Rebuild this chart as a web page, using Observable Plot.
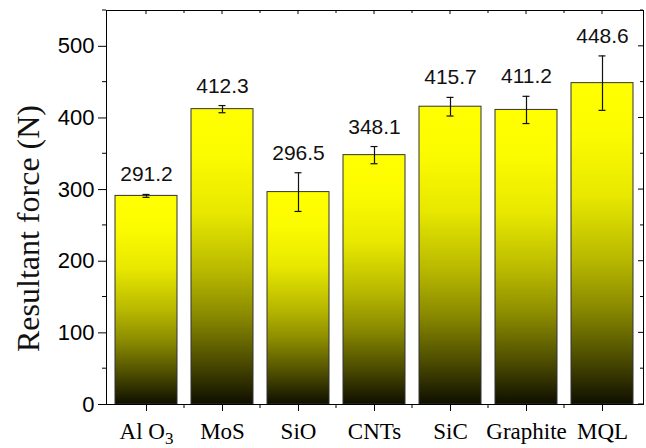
<!DOCTYPE html>
<html>
<head>
<meta charset="utf-8">
<script src="https://cdn.jsdelivr.net/npm/d3@7"></script>
<script src="https://cdn.jsdelivr.net/npm/@observablehq/plot@0.6"></script>
<style>
  html, body { margin: 0; padding: 0; background: #fff; }
  #chart svg { display: block; }
</style>
</head>
<body>
<div id="chart"></div>
<script>
const categories = ["Al O3", "MoS", "SiO", "CNTs", "SiC", "Graphite", "MQL"];
const values = [291.2, 412.3, 296.5, 348.1, 415.7, 411.2, 448.6];
const errors = [2, 5, 27, 12, 13, 19, 38];
const yTicks = [0, 100, 200, 300, 400, 500];
const yMinorTicks = [50, 150, 250, 350, 450, 550];
const yTitle = "Resultant force (N)";

const data = categories.map((c, i) => ({cat: c, v: values[i], e: errors[i], label: values[i].toFixed(1)}));

const gradStops = [
  [0, "#ffff00"], [0.15, "#fcfc00"], [0.35, "#e8e800"], [0.55, "#b8b800"],
  [0.7, "#8a8a00"], [0.85, "#4f4f00"], [1, "#0f0f00"]
];

function gradientDefs() {
  const defs = d3.create("svg:defs");
  const g = defs.append("linearGradient").attr("id", "barGrad")
    .attr("x1", 0).attr("y1", 0).attr("x2", 0).attr("y2", 1);
  gradStops.forEach(([o, c]) => g.append("stop").attr("offset", o).attr("stop-color", c));
  return defs.node();
}

function frameTicks(index, scales, values, dims) {
  const {x, y} = scales;
  const {marginLeft, marginTop, width, height, marginRight, marginBottom} = dims;
  const left = marginLeft, right = width - marginRight, top = marginTop, bottom = height - marginBottom;
  const g = d3.create("svg:g").attr("stroke", "black").attr("stroke-width", 1);
  const bw = x.bandwidth();
  const step = x(categories[1]) - x(categories[0]);
  const centers = categories.map(c => x(c) + bw / 2);
  const bounds = categories.slice(0, -1).map(c => x(c) + bw + (step - bw) / 2);
  centers.forEach(cx => g.append("line").attr("x1", cx).attr("x2", cx).attr("y1", top).attr("y2", top + 4));
  bounds.forEach(bx => g.append("line").attr("x1", bx).attr("x2", bx).attr("y1", top).attr("y2", top + 3));
  bounds.forEach(bx => g.append("line").attr("x1", bx).attr("x2", bx).attr("y1", bottom).attr("y2", bottom + 4));
  yMinorTicks.forEach(t => g.append("line").attr("x1", left).attr("x2", left - 4).attr("y1", y(t)).attr("y2", y(t)));
  yTicks.concat(yMinorTicks).forEach(t => g.append("line").attr("x1", right).attr("x2", right - (t % 100 === 0 ? 5 : 3)).attr("y1", y(t)).attr("y2", y(t)));
  return g.node();
}

const plot = Plot.plot({
  width: 646,
  height: 448,
  marginLeft: 106,
  marginRight: 3,
  marginTop: 10,
  marginBottom: 44,
  style: {background: "#fff"},
  x: {domain: categories, paddingInner: 0.18, paddingOuter: 0.078, label: null},
  y: {domain: [0, 550], label: null},
  marks: [
    gradientDefs,
    Plot.barY(data, {x: "cat", y: "v", fill: "url(#barGrad)", stroke: "#333", strokeWidth: 1}),
    Plot.ruleX(data, {x: "cat", y1: d => d.v - d.e, y2: d => d.v + d.e, stroke: "#111", strokeWidth: 1.2}),
    Plot.tickY(data, {x: "cat", y: d => d.v + d.e, stroke: "#111", strokeWidth: 1.2, insetLeft: 27.5, insetRight: 27.5}),
    Plot.tickY(data, {x: "cat", y: d => d.v - d.e, stroke: "#111", strokeWidth: 1.2, insetLeft: 27.5, insetRight: 27.5}),
    Plot.text(data, {x: "cat", y: d => d.v + d.e, text: "label", dy: -13, lineAnchor: "bottom",
      fontSize: 21, fontFamily: "Liberation Sans, Arial, sans-serif", fill: "#111"}),
    Plot.axisX({tickSize: 7, tickPadding: 11, fontSize: 23, fontFamily: "Liberation Serif, Times New Roman, serif", label: null, stroke: "black"}),
    Plot.axisY({ticks: yTicks, tickSize: 8, tickPadding: 4, fontSize: 22, fontFamily: "Liberation Sans, Arial, sans-serif", label: null, stroke: "black"}),
    Plot.frame({stroke: "black", strokeWidth: 1}),
    frameTicks,
    Plot.text([yTitle], {frameAnchor: "left", textAnchor: "middle", rotate: -90, dx: -78, dy: 21, fontSize: 32,
      fontFamily: "Liberation Serif, Times New Roman, serif", fill: "#111"})
  ]
});

d3.select(plot).selectAll("text").each(function() {
  const t = d3.select(this);
  if (t.text() === "Al O3" && this.children.length === 0) {
    t.text("Al O");
    t.append("tspan").attr("dy", "0.3em").attr("font-size", "17").text("3");
  }
  t.selectAll("tspan").each(function() {
    const s = d3.select(this);
    if (s.text() === "Al O3") {
      s.text("Al O");
      d3.select(this.parentNode).append("tspan").attr("dy", "0.3em").attr("font-size", "17").text("3");
    }
  });
});

document.getElementById("chart").appendChild(plot);
</script>
</body>
</html>
